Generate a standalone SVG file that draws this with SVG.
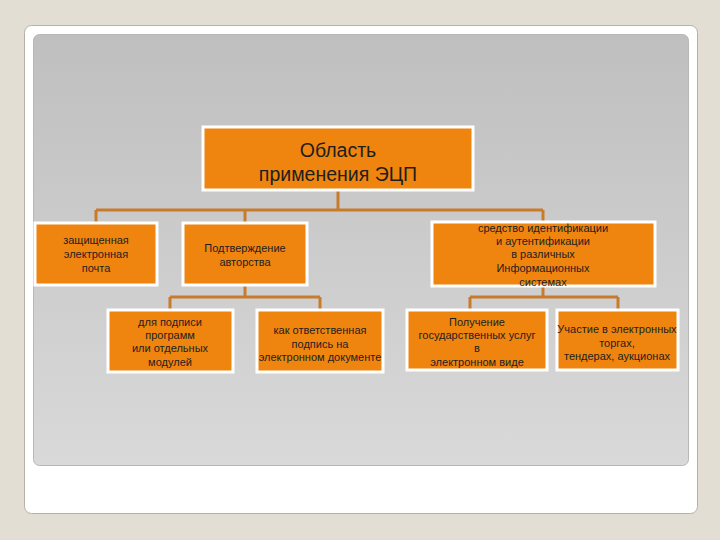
<svg xmlns="http://www.w3.org/2000/svg" width="720" height="540" viewBox="0 0 720 540">
<defs>
<linearGradient id="panel" x1="0" y1="0" x2="0" y2="1">
<stop offset="0" stop-color="#bfbfbf"/>
<stop offset="1" stop-color="#d9d9d9"/>
</linearGradient>
<style>
.box{fill:#ef850f;stroke:#ffffff;stroke-width:3}
.t{font-family:"Liberation Sans",Arial,sans-serif;font-size:11px;fill:#1e1e1e;text-anchor:middle}
.big{font-family:"Liberation Sans",Arial,sans-serif;font-size:19.5px;fill:#1e1e1e;text-anchor:middle}
.c{fill:none;stroke:#c97b2c;stroke-width:3}
</style>
</defs>
<rect width="720" height="540" fill="#e3ded4"/>
<rect x="24.5" y="25.5" width="673" height="488" rx="7" fill="#ffffff" stroke="#b5b0a8" stroke-width="1"/>
<rect x="33.5" y="34.5" width="655" height="431" rx="6" fill="url(#panel)" stroke="#b8b8b8" stroke-width="1"/>
<g id="connectors">
<path class="c" d="M338 190 V210 M96 210 H543 M96 210 V223 M245 210 V223 M543 210 V222"/>
<path class="c" d="M245 285 V297 M170 297 H320 M170 297 V310 M320 297 V310"/>
<path class="c" d="M543 286 V297 M470 297 H618 M470 297 V310 M618 297 V310"/>
</g>
<g id="root">
<rect class="box" x="203" y="127" width="270" height="63"/>
<text class="big" x="338" y="157">Область</text>
<text class="big" x="338" y="181">применения ЭЦП</text>
</g>
<g id="n1">
<rect class="box" x="35" y="223" width="122" height="62"/>
<text class="t" x="96" y="244">защищенная</text>
<text class="t" x="96" y="258">электронная</text>
<text class="t" x="96" y="272">почта</text>
</g>
<g id="n2">
<rect class="box" x="183" y="223" width="124" height="62"/>
<text class="t" x="245" y="252">Подтверждение</text>
<text class="t" x="245" y="266">авторства</text>
</g>
<g id="n3">
<rect class="box" x="432" y="222" width="223" height="64"/>
<text class="t" x="543" y="232">средство идентификации</text>
<text class="t" x="543" y="245">и аутентификации</text>
<text class="t" x="543" y="258">в различных</text>
<text class="t" x="543" y="272">Информационных</text>
<text class="t" x="543" y="286">системах</text>
</g>
<g id="n4">
<rect class="box" x="108" y="310" width="125" height="62"/>
<text class="t" x="170" y="326">для подписи</text>
<text class="t" x="170" y="339">программ</text>
<text class="t" x="170" y="352">или отдельных</text>
<text class="t" x="170" y="366">модулей</text>
</g>
<g id="n5">
<rect class="box" x="257" y="310" width="126" height="62"/>
<text class="t" x="320" y="334">как ответственная</text>
<text class="t" x="320" y="348">подпись на</text>
<text class="t" x="320" y="361">электронном документе</text>
</g>
<g id="n6">
<rect class="box" x="407" y="310" width="140" height="60"/>
<text class="t" x="477" y="326">Получение</text>
<text class="t" x="477" y="339">государственных услуг</text>
<text class="t" x="477" y="352">в</text>
<text class="t" x="477" y="366">электронном виде</text>
</g>
<g id="n7">
<rect class="box" x="557" y="310" width="121" height="60"/>
<text class="t" x="617" y="333">Участие в электронных</text>
<text class="t" x="617" y="347">торгах,</text>
<text class="t" x="617" y="360">тендерах, аукционах</text>
</g>
</svg>
